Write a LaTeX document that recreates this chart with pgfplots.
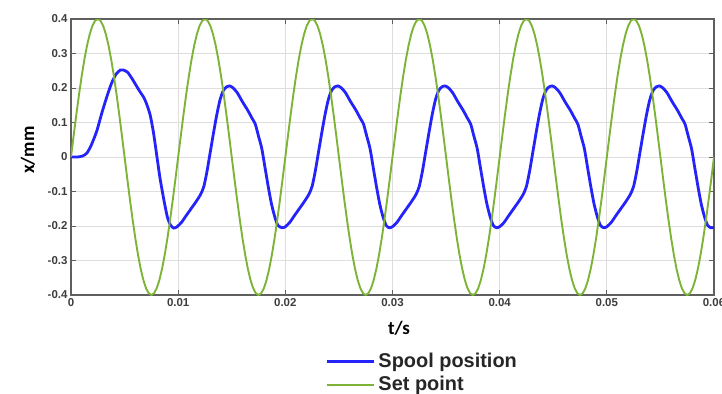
\documentclass[border=0pt]{standalone}
\usepackage{fontspec}
\setmainfont{Liberation Sans}
\newfontfamily\carlito{Carlito}
\usepackage{pgfplots}
\pgfplotsset{compat=1.18}
\definecolor{spool}{RGB}{35,35,250}
\definecolor{setp}{RGB}{125,180,55}
\definecolor{axgray}{RGB}{95,95,95}
\definecolor{tickgray}{RGB}{60,60,60}
\definecolor{gridgray}{RGB}{222,222,222}
\begin{document}
\begin{tikzpicture}
\useasboundingbox (-71bp,-99bp) rectangle (651bp,295bp);
\begin{axis}[
  at={(0,0)}, anchor=south west,
  scale only axis, width=643bp, height=276bp,
  xmin=0, xmax=0.06, ymin=-0.4, ymax=0.4,
  xtick={0,0.01,0.02,0.03,0.04,0.05,0.06},
  xticklabels={0,0.01,0.02,0.03,0.04,0.05,0.06},
  ytick={-0.4,-0.3,-0.2,-0.1,0,0.1,0.2,0.3,0.4},
  yticklabels={-0.4,-0.3,-0.2,-0.1,0,0.1,0.2,0.3,0.4},
  scaled ticks=false,
  tick label style={font=\fontsize{11.5}{12}\selectfont\bfseries, text=tickgray},
  grid=major, major grid style={gridgray, line width=0.9bp},
  axis line style={axgray, line width=1.6bp},
  tick style={axgray, line width=0.8bp},
  major tick length=5bp,
  tick align=inside, tick pos=both,
  xlabel={t/s}, ylabel={x/mm},
  label style={font=\carlito\fontsize{19}{22}\selectfont\bfseries},
  xlabel style={at={(axis description cs:0.51,-0.12)}, anchor=center},
  ylabel style={at={(axis description cs:-0.067,0.525)}, anchor=center},
  legend style={draw=none, fill=none, at={(axis description cs:0.395,-0.203)}, anchor=north west,
    font=\fontsize{20}{24}\selectfont\bfseries, text=black!85, inner sep=0pt, row sep=0bp,
    column sep=3bp, nodes={inner sep=0.5bp, text height=16bp, text depth=6bp}},
  legend cell align=left,
  legend image code/.code={\draw[#1] (0bp,1bp) -- (47bp,1bp);},
]
\addplot[spool, line width=2.8bp, smooth, tension=0.4] coordinates {
(0,0) (0.0006,0) (0.0011,0.003) (0.0015,0.012) (0.0019,0.035) (0.0024,0.075) (0.0029,0.130) (0.0034,0.180) (0.0038,0.215) (0.0042,0.240) (0.0046,0.252) (0.0049,0.252) (0.0053,0.245) (0.0058,0.222) (0.0063,0.196) (0.0068,0.172) (0.0071,0.150) (0.0074,0.120) (0.0077,0.070) (0.0080,0.005) (0.0083,-0.060) (0.0087,-0.130) (0.0090,-0.175) (0.0093,-0.198)
(0.0096,-0.206) (0.0099,-0.202) (0.0103,-0.190) (0.0107,-0.172) (0.0112,-0.150) (0.0117,-0.128) (0.0121,-0.108) (0.0124,-0.085) (0.0127,-0.040) (0.0130,0.015) (0.0133,0.070) (0.0136,0.122) (0.0139,0.165) (0.0142,0.192) (0.0145,0.203) (0.0148,0.206) (0.0151,0.201) (0.0155,0.187) (0.0160,0.160) (0.0165,0.135) (0.0169,0.112) (0.0172,0.095) (0.0175,0.060) (0.0178,0.025) (0.0181,-0.030) (0.0184,-0.085) (0.0187,-0.135) (0.0190,-0.172) (0.0193,-0.198)
(0.0197,-0.205) (0.0200,-0.202) (0.0204,-0.190) (0.0208,-0.172) (0.0213,-0.150) (0.0218,-0.128) (0.0222,-0.108) (0.0225,-0.085) (0.0228,-0.040) (0.0231,0.015) (0.0234,0.070) (0.0237,0.122) (0.0240,0.165) (0.0243,0.192) (0.0246,0.203) (0.0249,0.206) (0.0252,0.201) (0.0256,0.187) (0.0261,0.160) (0.0266,0.135) (0.0270,0.112) (0.0273,0.095) (0.0276,0.060) (0.0279,0.025) (0.0282,-0.030) (0.0285,-0.085) (0.0288,-0.135) (0.0291,-0.172) (0.0294,-0.198)
(0.0297,-0.205) (0.0300,-0.202) (0.0304,-0.190) (0.0308,-0.172) (0.0313,-0.150) (0.0318,-0.128) (0.0322,-0.108) (0.0325,-0.085) (0.0328,-0.040) (0.0331,0.015) (0.0334,0.070) (0.0337,0.122) (0.0340,0.165) (0.0343,0.192) (0.0346,0.203) (0.0349,0.206) (0.0352,0.201) (0.0356,0.187) (0.0361,0.160) (0.0366,0.135) (0.0370,0.112) (0.0373,0.095) (0.0376,0.060) (0.0379,0.025) (0.0382,-0.030) (0.0385,-0.085) (0.0388,-0.135) (0.0391,-0.172) (0.0394,-0.198)
(0.0397,-0.205) (0.0400,-0.202) (0.0404,-0.190) (0.0408,-0.172) (0.0413,-0.150) (0.0418,-0.128) (0.0422,-0.108) (0.0425,-0.085) (0.0428,-0.040) (0.0431,0.015) (0.0434,0.070) (0.0437,0.122) (0.0440,0.165) (0.0443,0.192) (0.0446,0.203) (0.0449,0.206) (0.0452,0.201) (0.0456,0.187) (0.0461,0.160) (0.0466,0.135) (0.0470,0.112) (0.0473,0.095) (0.0476,0.060) (0.0479,0.025) (0.0482,-0.030) (0.0485,-0.085) (0.0488,-0.135) (0.0491,-0.172) (0.0494,-0.198)
(0.0497,-0.205) (0.0500,-0.202) (0.0504,-0.190) (0.0508,-0.172) (0.0513,-0.150) (0.0518,-0.128) (0.0522,-0.108) (0.0525,-0.085) (0.0528,-0.040) (0.0531,0.015) (0.0534,0.070) (0.0537,0.122) (0.0540,0.165) (0.0543,0.192) (0.0546,0.203) (0.0549,0.206) (0.0552,0.201) (0.0556,0.187) (0.0561,0.160) (0.0566,0.135) (0.0570,0.112) (0.0573,0.095) (0.0576,0.060) (0.0579,0.025) (0.0582,-0.030) (0.0585,-0.085) (0.0588,-0.135) (0.0591,-0.172) (0.0594,-0.198)
(0.0597,-0.205) (0.0600,-0.205)
};
\addlegendentry{Spool position}
\addplot[setp, line width=1.9bp] coordinates {
(0,0) (0.00025,0.0626) (0.0005,0.1236) (0.00075,0.1816) (0.001,0.2351) (0.00125,0.2828) (0.0015,0.3236) (0.00175,0.3564) (0.002,0.3804) (0.00225,0.3951) (0.0025,0.4) (0.00275,0.3951) (0.003,0.3804) (0.00325,0.3564) (0.0035,0.3236) (0.00375,0.2828) (0.004,0.2351) (0.00425,0.1816) (0.0045,0.1236) (0.00475,0.0626) (0.005,0) (0.00525,-0.0626) (0.0055,-0.1236) (0.00575,-0.1816) (0.006,-0.2351) (0.00625,-0.2828) (0.0065,-0.3236) (0.00675,-0.3564) (0.007,-0.3804) (0.00725,-0.3951) (0.0075,-0.4) (0.00775,-0.3951) (0.008,-0.3804) (0.00825,-0.3564) (0.0085,-0.3236) (0.00875,-0.2828) (0.009,-0.2351) (0.00925,-0.1816) (0.0095,-0.1236) (0.00975,-0.0626)
(0.01,0) (0.01025,0.0626) (0.0105,0.1236) (0.01075,0.1816) (0.011,0.2351) (0.01125,0.2828) (0.0115,0.3236) (0.01175,0.3564) (0.012,0.3804) (0.01225,0.3951) (0.0125,0.4) (0.01275,0.3951) (0.013,0.3804) (0.01325,0.3564) (0.0135,0.3236) (0.01375,0.2828) (0.014,0.2351) (0.01425,0.1816) (0.0145,0.1236) (0.01475,0.0626) (0.015,0) (0.01525,-0.0626) (0.0155,-0.1236) (0.01575,-0.1816) (0.016,-0.2351) (0.01625,-0.2828) (0.0165,-0.3236) (0.01675,-0.3564) (0.017,-0.3804) (0.01725,-0.3951) (0.0175,-0.4) (0.01775,-0.3951) (0.018,-0.3804) (0.01825,-0.3564) (0.0185,-0.3236) (0.01875,-0.2828) (0.019,-0.2351) (0.01925,-0.1816) (0.0195,-0.1236) (0.01975,-0.0626)
(0.02,0) (0.02025,0.0626) (0.0205,0.1236) (0.02075,0.1816) (0.021,0.2351) (0.02125,0.2828) (0.0215,0.3236) (0.02175,0.3564) (0.022,0.3804) (0.02225,0.3951) (0.0225,0.4) (0.02275,0.3951) (0.023,0.3804) (0.02325,0.3564) (0.0235,0.3236) (0.02375,0.2828) (0.024,0.2351) (0.02425,0.1816) (0.0245,0.1236) (0.02475,0.0626) (0.025,0) (0.02525,-0.0626) (0.0255,-0.1236) (0.02575,-0.1816) (0.026,-0.2351) (0.02625,-0.2828) (0.0265,-0.3236) (0.02675,-0.3564) (0.027,-0.3804) (0.02725,-0.3951) (0.0275,-0.4) (0.02775,-0.3951) (0.028,-0.3804) (0.02825,-0.3564) (0.0285,-0.3236) (0.02875,-0.2828) (0.029,-0.2351) (0.02925,-0.1816) (0.0295,-0.1236) (0.02975,-0.0626)
(0.03,0) (0.03025,0.0626) (0.0305,0.1236) (0.03075,0.1816) (0.031,0.2351) (0.03125,0.2828) (0.0315,0.3236) (0.03175,0.3564) (0.032,0.3804) (0.03225,0.3951) (0.0325,0.4) (0.03275,0.3951) (0.033,0.3804) (0.03325,0.3564) (0.0335,0.3236) (0.03375,0.2828) (0.034,0.2351) (0.03425,0.1816) (0.0345,0.1236) (0.03475,0.0626) (0.035,0) (0.03525,-0.0626) (0.0355,-0.1236) (0.03575,-0.1816) (0.036,-0.2351) (0.03625,-0.2828) (0.0365,-0.3236) (0.03675,-0.3564) (0.037,-0.3804) (0.03725,-0.3951) (0.0375,-0.4) (0.03775,-0.3951) (0.038,-0.3804) (0.03825,-0.3564) (0.0385,-0.3236) (0.03875,-0.2828) (0.039,-0.2351) (0.03925,-0.1816) (0.0395,-0.1236) (0.03975,-0.0626)
(0.04,0) (0.04025,0.0626) (0.0405,0.1236) (0.04075,0.1816) (0.041,0.2351) (0.04125,0.2828) (0.0415,0.3236) (0.04175,0.3564) (0.042,0.3804) (0.04225,0.3951) (0.0425,0.4) (0.04275,0.3951) (0.043,0.3804) (0.04325,0.3564) (0.0435,0.3236) (0.04375,0.2828) (0.044,0.2351) (0.04425,0.1816) (0.0445,0.1236) (0.04475,0.0626) (0.045,0) (0.04525,-0.0626) (0.0455,-0.1236) (0.04575,-0.1816) (0.046,-0.2351) (0.04625,-0.2828) (0.0465,-0.3236) (0.04675,-0.3564) (0.047,-0.3804) (0.04725,-0.3951) (0.0475,-0.4) (0.04775,-0.3951) (0.048,-0.3804) (0.04825,-0.3564) (0.0485,-0.3236) (0.04875,-0.2828) (0.049,-0.2351) (0.04925,-0.1816) (0.0495,-0.1236) (0.04975,-0.0626)
(0.05,0) (0.05025,0.0626) (0.0505,0.1236) (0.05075,0.1816) (0.051,0.2351) (0.05125,0.2828) (0.0515,0.3236) (0.05175,0.3564) (0.052,0.3804) (0.05225,0.3951) (0.0525,0.4) (0.05275,0.3951) (0.053,0.3804) (0.05325,0.3564) (0.0535,0.3236) (0.05375,0.2828) (0.054,0.2351) (0.05425,0.1816) (0.0545,0.1236) (0.05475,0.0626) (0.055,0) (0.05525,-0.0626) (0.0555,-0.1236) (0.05575,-0.1816) (0.056,-0.2351) (0.05625,-0.2828) (0.0565,-0.3236) (0.05675,-0.3564) (0.057,-0.3804) (0.05725,-0.3951) (0.0575,-0.4) (0.05775,-0.3951) (0.058,-0.3804) (0.05825,-0.3564) (0.0585,-0.3236) (0.05875,-0.2828) (0.059,-0.2351) (0.05925,-0.1816) (0.0595,-0.1236) (0.05975,-0.0626)
(0.06,0)
};
\addlegendentry{Set point}
\end{axis}
\end{tikzpicture}
\end{document}
